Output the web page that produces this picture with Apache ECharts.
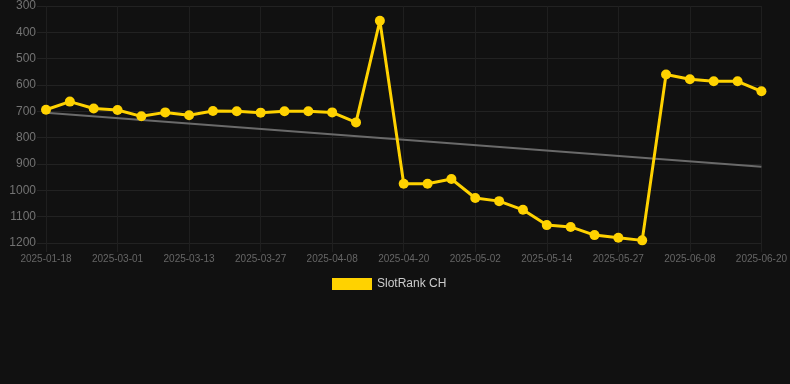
<!DOCTYPE html>
<html>
<head>
<meta charset="utf-8">
<script src="https://cdn.jsdelivr.net/npm/echarts@6/dist/echarts.min.js"></script>
<style>
  html, body { margin: 0; padding: 0; background: #111111; }
  #chart { width: 790px; height: 384px; }
</style>
</head>
<body>
<div id="chart"></div>
<script>
// dates (x categories), labels shown every 3rd
var dates = [
    '2025-01-18', '2025-02-01', '2025-02-15', '2025-03-01', '2025-03-05', '2025-03-09',
    '2025-03-13', '2025-03-17', '2025-03-21', '2025-03-27', '2025-03-31', '2025-04-04',
    '2025-04-08', '2025-04-12', '2025-04-16', '2025-04-20', '2025-04-24', '2025-04-28',
    '2025-05-02', '2025-05-06', '2025-05-10', '2025-05-14', '2025-05-18', '2025-05-22',
    '2025-05-27', '2025-05-31', '2025-06-04', '2025-06-08', '2025-06-12', '2025-06-16',
    '2025-06-20'
];
// rank values
var rankCH = [
    694, 663, 689, 695, 719, 704, 715, 699, 700, 705, 700, 700, 704, 742, 356,
    975, 975, 957, 1029, 1041, 1074, 1132, 1139, 1170, 1180, 1190,
    560, 578, 586, 586, 624
];
// trend line ends (first / last category)
var trendStart = 705;
var trendEnd = 910;
var yTicks = [300, 1200, 100]; // min, max, step

var myChart = echarts.init(document.getElementById('chart'));

var option = {
    backgroundColor: '#111111',
    animation: false,
    grid: {
        left: 46,
        right: 28,
        top: 6,
        bottom: 141
    },
    legend: {
        data: ['SlotRank CH'],
        top: 273,
        left: 327,
        icon: 'rect',
        itemWidth: 40,
        itemHeight: 12,
        textStyle: { color: '#cccccc', fontSize: 12, fontFamily: 'Liberation Sans' }
    },
    xAxis: {
        type: 'category',
        data: dates,
        boundaryGap: false,
        axisLine: { show: false },
        axisTick: {
            show: true,
            interval: 2,
            length: 9,
            lineStyle: { color: '#1f1f1f' }
        },
        axisLabel: {
            interval: 2,
            color: '#666666',
            fontSize: 10,
            fontFamily: 'Liberation Sans',
            margin: 11
        },
        splitLine: {
            show: true,
            interval: 2,
            lineStyle: { color: '#1f1f1f', width: 1 }
        }
    },
    yAxis: {
        type: 'value',
        inverse: true,
        min: yTicks[0],
        max: yTicks[1],
        interval: yTicks[2],
        axisLine: { show: false },
        axisTick: {
            show: true,
            length: 9,
            lineStyle: { color: '#222222' }
        },
        axisLabel: {
            color: '#737373',
            fontSize: 12,
            fontFamily: 'Liberation Sans',
            margin: 10,
            formatter: function (v) { return String(v); }
        },
        splitLine: {
            lineStyle: { color: '#222222', width: 1 }
        }
    },
    series: [{
        name: 'trend',
        type: 'line',
        data: [[0, trendStart], [dates.length - 1, trendEnd]],
        symbol: 'none',
        lineStyle: { color: '#6a6a6a', width: 2 },
        silent: true,
        z: 1
    }, {
        name: 'SlotRank CH',
        type: 'line',
        data: rankCH,
        symbol: 'circle',
        symbolSize: 10,
        showAllSymbol: true,
        itemStyle: { color: '#FFD200' },
        lineStyle: { color: '#FFD200', width: 3 },
        z: 3
    }]
};

myChart.setOption(option);
</script>
</body>
</html>
